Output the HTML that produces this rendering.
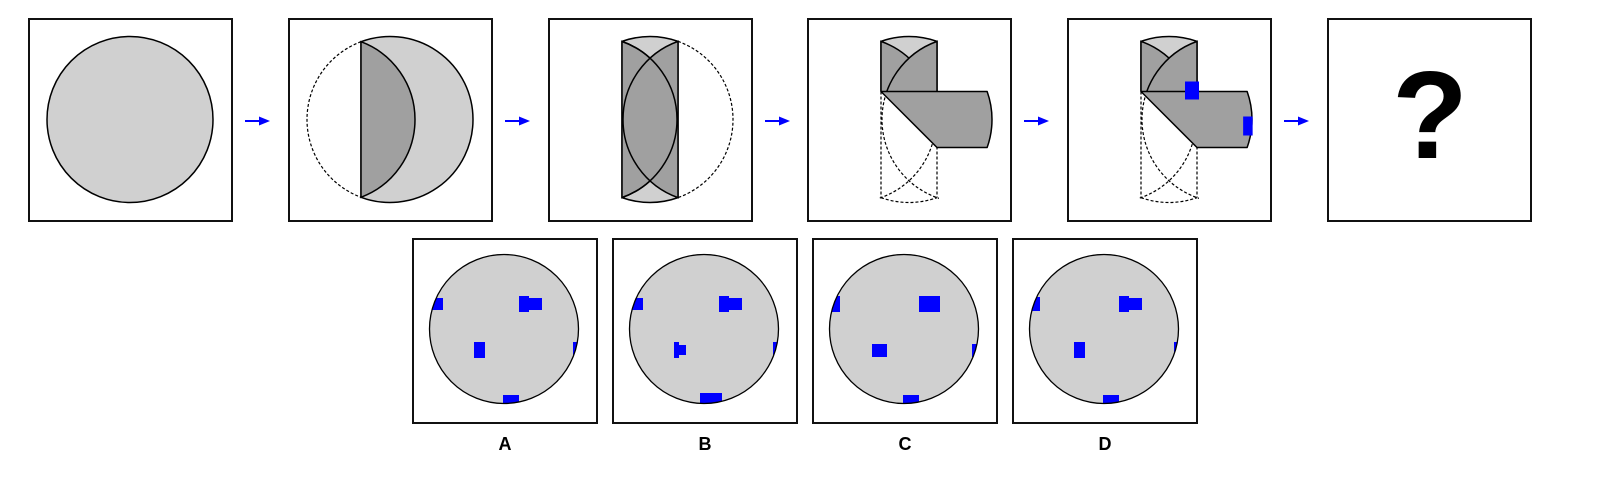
<!DOCTYPE html>
<html><head><meta charset="utf-8"><style>
html,body{margin:0;padding:0;background:#fff;}
svg{display:block;}
text{font-family:"Liberation Sans",Arial,sans-serif;font-weight:bold;}
</style></head><body>
<svg id="fig" width="1610" height="490" viewBox="0 0 1610 490" xmlns="http://www.w3.org/2000/svg"></svg>
<script>
// option labels and blue hole rectangles (relative to circle centre: x1,x2,y1,y2)
const optionLabels = ['A','B','C','D'];
const holesA = [[-72,-61,-31,-19],[15,25,-33,-17],[25,38,-31,-19],[-30,-19,13,29],[69,76,13,28],[-1,15,66,76]];
const holesB = [[-72,-61,-31,-19],[15,25,-33,-17],[25,38,-31,-19],[-30,-25,13,29],[-25,-18,16,26],[69,76,13,28],[-4,18,64,76]];
const holesC = [[-73,-64,-33,-17],[15,36,-33,-17],[-32,-17,15,28],[68,76,15,28],[-1,15,66,76]];
const holesD = [[-73,-64,-32,-18],[15,25,-33,-17],[25,38,-31,-19],[-30,-19,13,29],[70,76,13,28],[-1,15,66,76]];
const optionHoles = [holesA, holesB, holesC, holesD];

const NS='http://www.w3.org/2000/svg';
const svg=document.getElementById('fig');
const LIGHT='#d0d0d0', DARK='#a0a0a0', BLUE='#0000ff';
const R=83, CY=119.5, BOX_Y=19, BOX=202;
let clipId=0;
function mk(tag,attrs,parent){const e=document.createElementNS(NS,tag);for(const k in attrs)e.setAttribute(k,attrs[k]);(parent||svg).appendChild(e);return e;}
function clip(x,y,w,h){const id='c'+(clipId++);const cp=mk('clipPath',{id:id});mk('rect',{x:x,y:y,width:w,height:h},cp);return 'url(#'+id+')';}

const topX=[29,289,549,808,1068,1328];
topX.forEach((x,i)=>{
  const b=mk('rect',{x:x,y:BOX_Y,width:203,height:BOX,fill:'#fff',stroke:'#111','stroke-width':2});
  
  
});
for(let i=0;i<5;i++){
  const ax=topX[i]+203+13;
  const g=mk('g',{});
  
  
  mk('line',{x1:ax,y1:121,x2:ax+16,y2:121,stroke:BLUE,'stroke-width':2},g);
  mk('polygon',{points:(ax+14)+',116.5 '+(ax+25)+',121 '+(ax+14)+',125.5',fill:BLUE},g);
}
(function(){const c=topX[0]+101;
  const e=mk('circle',{cx:c,cy:CY,r:R,fill:LIGHT,stroke:'#000','stroke-width':1.5});
  
  
})();
(function(){const c=topX[1]+101, xl=c-29, h=Math.sqrt(R*R-29*29), t=CY-h, b=CY+h;
  const g=mk('g',{fill:'none',stroke:'#000','stroke-width':1.5});
  
  
  mk('path',{d:`M${xl},${t} A${R} ${R} 0 1 1 ${xl},${b} Z`,fill:LIGHT},g);
  mk('path',{d:`M${xl},${t} A${R} ${R} 0 0 1 ${xl},${b} Z`,fill:DARK},g);
  mk('path',{d:`M${xl},${t} A${R} ${R} 0 0 0 ${xl},${b}`,'stroke-dasharray':'3,2','stroke-width':1.2},g);
})();
function strip(c,g,clipUrl,restroke){
  const xl=c-28,xr=c+28,h=Math.sqrt(R*R-28*28),t=CY-h,b=CY+h;
  const attrs=clipUrl?{'clip-path':clipUrl}:{};
  const s=mk('g',attrs,g);
  mk('path',{d:`M${xl},${t} A${R} ${R} 0 0 1 ${xr},${t} L${xr},${b} A${R} ${R} 0 0 1 ${xl},${b} Z`,fill:LIGHT},s);
  mk('path',{d:`M${xl},${t} A${R} ${R} 0 0 1 ${xl},${b} Z`,fill:DARK},s);
  mk('path',{d:`M${xr},${t} A${R} ${R} 0 0 0 ${xr},${b} Z`,fill:DARK},s);
  if(restroke){
    mk('path',{d:`M${xl},${t} A${R} ${R} 0 0 1 ${xl},${b}`,fill:'none'},s);
  }
  return {xl,xr,h,t,b};
}
(function(){const c=topX[2]+101;
  const g=mk('g',{fill:'none',stroke:'#000','stroke-width':1.5});
  
  
  const s=strip(c,g,null,true);
  mk('path',{d:`M${s.xr},${s.t} A${R} ${R} 0 0 1 ${s.xr},${s.b}`,'stroke-dasharray':'3,2','stroke-width':1.2},g);
})();
function fold3(x0,name,holes){
  const c=x0+101, xl=c-28, xr=c+28, yf=CY-28, h=Math.sqrt(R*R-28*28), b=CY+h;
  const g=mk('g',{fill:'none',stroke:'#000','stroke-width':1.5});
  
  
  const d=mk('g',{'stroke-dasharray':'3,2','stroke-width':1.2,'clip-path':clip(xl-2,yf,60,b-yf+10)},g);
  mk('line',{x1:xl,y1:yf,x2:xl,y2:b},d);
  mk('line',{x1:xr,y1:yf,x2:xr,y2:b},d);
  mk('path',{d:`M${xl},${b} A${R} ${R} 0 0 0 ${xr},${b}`},d);
  mk('circle',{cx:c+56,cy:CY,r:R},d);
  mk('circle',{cx:c-56,cy:CY,r:R},d);
  strip(c,g,clip(xl-3,0,62,yf-0.2),false);
  const ex=xl+(b-yf);
  mk('path',{d:`M${xl},${yf} L${ex},${yf} A${R} ${R} 0 0 1 ${ex},${yf+56} L${xr},${yf+56} Z`,fill:DARK,'stroke-linejoin':'round'},g);
  if(holes){
    const r1=mk('rect',{x:xr-12,y:yf-10,width:14,height:18,fill:BLUE,stroke:'none'},g);
    
    
    const r2=mk('rect',{x:ex-4,y:yf+25,width:10,height:19,fill:BLUE,stroke:'none','clip-path':clip(xl,yf,ex+6-xl-0.5,60)},g);
    
    
  }
}
fold3(topX[3],'fold-three',false);
fold3(topX[4],'fold-three-punched',true);
(function(){const t=mk('text',{x:topX[5]+102,y:158,'font-size':124,'text-anchor':'middle',fill:'#000'});
  t.textContent='?';
  
  
})();
const optX=[413,613,813,1013];
optionLabels.forEach((lab,i)=>{
  const x0=optX[i], y0=239;
  const g=mk('g',{});
  
  
  mk('rect',{x:x0,y:y0,width:184,height:184,fill:'#fff',stroke:'#111','stroke-width':2},g);
  const cx=x0+91, cy=y0+90, r=74.5;
  mk('circle',{cx:cx,cy:cy,r:r,fill:LIGHT},g);
  const id='oc'+i;const cp=mk('clipPath',{id:id},g);mk('circle',{cx:cx,cy:cy,r:r},cp);
  const hg=mk('g',{'clip-path':'url(#'+id+')'},g);
  optionHoles[i].forEach((hh,j)=>{
    const e=mk('rect',{x:cx+hh[0],y:cy+hh[2],width:hh[1]-hh[0],height:hh[3]-hh[2],fill:BLUE},hg);
    
    
  });
  mk('circle',{cx:cx,cy:cy,r:r,fill:'none',stroke:'#000','stroke-width':1.3},g);
  const t=mk('text',{x:x0+92,y:450,'font-size':18,'text-anchor':'middle',fill:'#000'},g);
  t.textContent=lab;
  
  
});
</script>
</body></html>
